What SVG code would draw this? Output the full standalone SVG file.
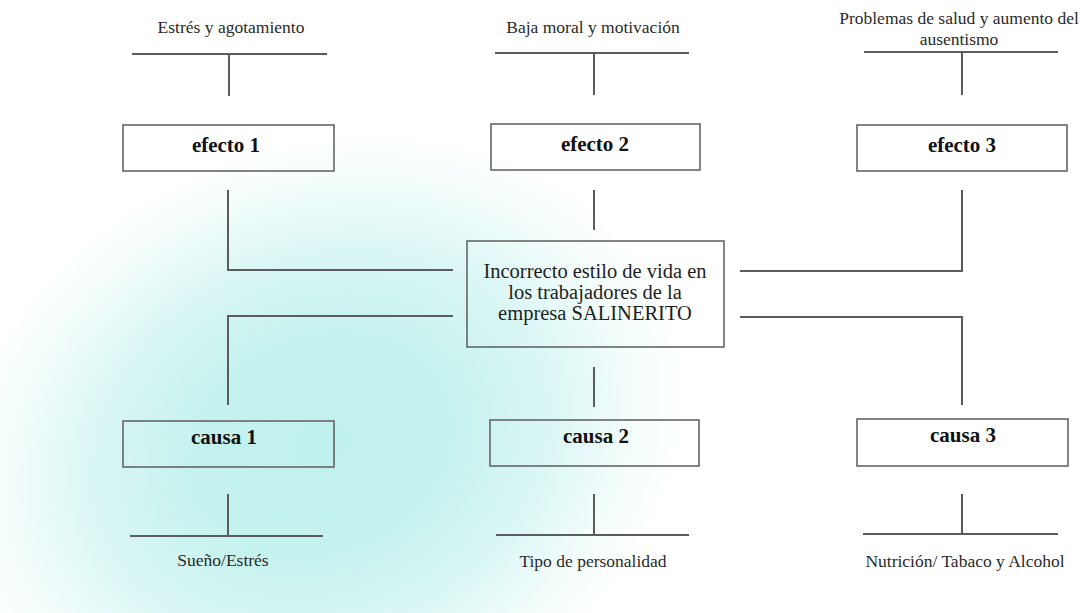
<svg xmlns="http://www.w3.org/2000/svg" width="1089" height="613" viewBox="0 0 1089 613">
  <defs>
    <radialGradient id="glow" gradientUnits="userSpaceOnUse" cx="0" cy="0" r="300" gradientTransform="translate(320,445) rotate(-22) scale(1.25,1)">
      <stop offset="0" stop-color="#c1f1ed"/>
      <stop offset="0.35" stop-color="#c5f2ef"/>
      <stop offset="0.65" stop-color="#dcf7f5"/>
      <stop offset="0.85" stop-color="#f3fdfc"/>
      <stop offset="1" stop-color="#ffffff"/>
    </radialGradient>
    <style>
      text { font-family: "Liberation Serif", Tinos, "Times New Roman", "DejaVu Serif", serif; text-anchor: middle; }
      .lbl { font-size: 17.5px; fill: #2a2a2a; }
      .ttl { font-size: 21px; font-weight: bold; fill: #111; }
      .ctr { font-size: 20.5px; fill: #1e1e1e; }
      .box { fill: none; stroke: #666; stroke-width: 1.6; }
      .ln { fill: none; stroke: #5c5c5c; stroke-width: 2; }
    </style>
  </defs>
  <rect width="1089" height="613" fill="#ffffff"/>
  <rect width="1089" height="613" fill="url(#glow)"/>

  <g id="connectors">
    <path class="ln" d="M132 54 H327 M229 54 V96"/>
    <path class="ln" d="M495 53 H689 M594 53 V95"/>
    <path class="ln" d="M864 52 H1058 M962 52 V95"/>
    <path class="ln" d="M228 190 V270 H453"/>
    <path class="ln" d="M594 190 V230"/>
    <path class="ln" d="M962 190 V271 H740"/>
    <path class="ln" d="M453 316 H228 V405"/>
    <path class="ln" d="M594 367 V407"/>
    <path class="ln" d="M740 317 H962 V405"/>
    <path class="ln" d="M228 494 V535 M130 536 H323"/>
    <path class="ln" d="M594 494 V535 M496 535 H689"/>
    <path class="ln" d="M962 494 V534 M863 534 H1058"/>
  </g>

  <g id="label-efecto1"><text class="lbl" x="231" y="33">Estrés y agotamiento</text></g>
  <g id="label-efecto2"><text class="lbl" x="593" y="33">Baja moral y motivación</text></g>
  <g id="label-efecto3">
    <text class="lbl" x="959" y="24">Problemas de salud y aumento del</text>
    <text class="lbl" x="959" y="45">ausentismo</text>
  </g>

  <g id="efecto1"><rect class="box" x="123" y="125" width="211" height="46"/><text class="ttl" x="226" y="152">efecto 1</text></g>
  <g id="efecto2"><rect class="box" x="491" y="124" width="209" height="46"/><text class="ttl" x="595" y="151">efecto 2</text></g>
  <g id="efecto3"><rect class="box" x="857" y="125" width="210" height="46"/><text class="ttl" x="962" y="152">efecto 3</text></g>

  <g id="problema">
    <rect class="box" x="467" y="241" width="257" height="106"/>
    <text class="ctr" x="595" y="278">Incorrecto estilo de vida en</text>
    <text class="ctr" x="595" y="299">los trabajadores de la</text>
    <text class="ctr" x="595" y="320">empresa SALINERITO</text>
  </g>

  <g id="causa1"><rect class="box" x="123" y="421" width="211" height="46"/><text class="ttl" x="224" y="444">causa 1</text></g>
  <g id="causa2"><rect class="box" x="490" y="420" width="209" height="46"/><text class="ttl" x="596" y="443">causa 2</text></g>
  <g id="causa3"><rect class="box" x="857" y="419" width="211" height="47"/><text class="ttl" x="963" y="442">causa 3</text></g>

  <g id="label-causa1"><text class="lbl" x="223" y="566">Sueño/Estrés</text></g>
  <g id="label-causa2"><text class="lbl" x="593" y="567">Tipo de personalidad</text></g>
  <g id="label-causa3"><text class="lbl" x="965" y="567">Nutrición/ Tabaco y Alcohol</text></g>
</svg>
